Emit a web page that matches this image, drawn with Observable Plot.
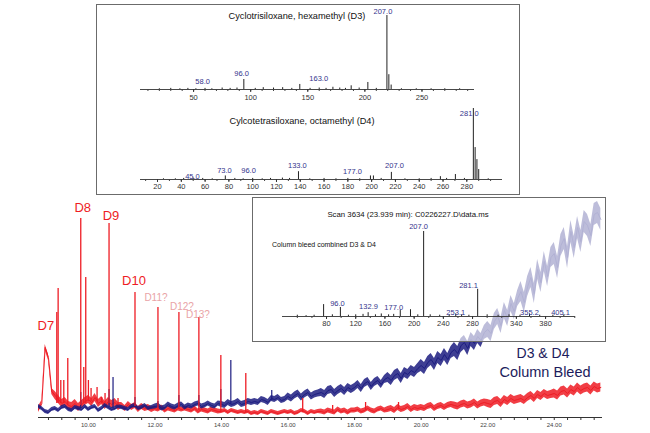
<!DOCTYPE html>
<html><head><meta charset="utf-8">
<script src="https://cdn.jsdelivr.net/npm/d3@7"></script>
<script src="https://cdn.jsdelivr.net/npm/@observablehq/plot@0.6"></script>
<style>
body{margin:0;background:#fff;}
#wrap{position:relative;width:650px;height:433px;overflow:hidden;font-family:"Liberation Sans",Arial,sans-serif;}
#wrap svg{position:absolute;left:0;top:0;}
.box{position:absolute;border:1.5px solid #6b6b6b;box-sizing:border-box;}
.t{position:absolute;white-space:nowrap;line-height:1;}
</style></head><body><div id="wrap"></div><script>
// ---------- chromatogram traces (abundance, arbitrary units) sampled every 0.1 min from 8.5 min ----------
const traceStart = 8.5, traceStep = 0.1;
const redAbund = [
  8, 14, 70, 60, 26,
  22, 18, 14, 16, 12, 11, 14, 10, 13, 16,
  18, 15, 20, 14, 17, 12, 16, 13, 15, 11,
  12, 9, 13, 10, 12, 8, 11, 9, 10, 8,
  9, 8, 10, 7, 9, 8, 7, 9, 8, 9,
  8, 7, 9, 6, 8, 7, 6, 8, 7, 6,
  6, 7, 5, 7, 6, 5, 6, 5, 6, 4,
  5, 4, 6, 5, 4, 6, 5, 4, 5, 6,
  5, 6, 4, 5, 7, 6, 4, 6, 5, 6,
  6, 5, 7, 6, 5, 8, 6, 7, 5, 7,
  7, 8, 6, 7, 9, 7, 6, 8, 9, 7,
  8, 9, 7, 10, 8, 9, 11, 8, 10, 9,
  10, 9, 11, 12, 9, 11, 12, 10, 12, 13,
  12, 11, 13, 14, 12, 13, 15, 12, 14, 15,
  14, 13, 16, 17, 14, 18, 16, 19, 17, 18,
  19, 17, 20, 22, 19, 23, 21, 24, 22, 23,
  24, 22, 26, 27, 24, 28, 26, 30, 27, 29,
  30, 27, 31, 29, 30
];
const blueAbund = [
  11, 9, 6, 5, 8,
  9, 7, 10, 11, 8, 7, 10, 9, 8, 11,
  8, 10, 11, 7, 9, 12, 10, 8, 9, 11,
  10, 9, 8, 11, 12, 9, 10, 12, 9, 10,
  11, 12, 9, 10, 13, 11, 10, 12, 13, 10,
  12, 11, 13, 14, 11, 12, 14, 12, 11, 14,
  13, 12, 15, 13, 14, 16, 13, 14, 16, 15,
  16, 15, 18, 17, 15, 19, 18, 20, 17, 18,
  21, 19, 22, 24, 20, 23, 25, 21, 23, 24,
  25, 23, 27, 28, 24, 27, 29, 26, 30, 28,
  30, 33, 29, 34, 36, 31, 35, 37, 33, 38,
  40, 37, 42, 44, 39, 45, 43, 47, 45, 49,
  52, 49, 55, 58, 53, 60, 57, 63, 58, 65,
  68, 64, 72, 75, 69, 78, 74, 81, 77, 85,
  88, 84, 96, 101, 92, 107, 99, 114, 106, 119,
  126, 115, 131, 140, 124, 148, 135, 156, 141, 160,
  164, 150, 172, 179, 160, 186, 170, 190, 176, 196,
  192, 182, 203, 205, 198
];
// half-width of the noise band, per whole minute from 8 to 25 min
const redNoise  = [3, 4, 4, 3, 2.5, 2.5, 2, 2, 2, 2.5, 2.5, 3, 3, 3.5, 4, 4, 4.5, 4.5];
const blueNoise = [2, 2, 2, 2, 2.5, 2.5, 3, 3, 3.5, 4, 4, 5, 6, 7, 8, 10, 11, 11];
// sharp peaks (retention time, apex, local baseline)
const redPeakTime = [9.05, 9.09, 9.17, 9.26, 9.38, 9.77, 9.86, 9.92, 10.0, 10.08, 10.26, 10.4, 10.5, 10.62, 10.89, 11.40, 12.09, 12.72, 13.32, 13.98, 14.73, 16.44, 17.34, 18.33, 19.32];
const redPeakTop  = [105, 129, 37, 37, 59, 199, 50, 140, 37, 29, 30, 20, 24, 194, 19, 125, 110, 105, 100, 62, 44, 19, 12, 15, 15];
const redPeakBase = [14, 14, 14, 14, 12, 12, 14, 14, 16, 16, 16, 14, 14, 14, 12, 11, 8, 8, 7, 6, 5, 5, 6, 7, 8];
const bluePeakTime = [9.77, 10.62, 10.74, 11.40, 12.09, 12.72, 13.32, 13.98, 14.28, 15.51];
const bluePeakTop  = [25, 28, 40, 20, 16, 22, 22, 28, 57, 27];
const bluePeakBase = [9, 10, 9, 10, 10, 11, 12, 13, 13, 17];
// peak annotations
const dLabel = ["D7", "D8", "D9", "D10", "D11?", "D12?", "D13?"];
const dTime  = [8.72, 9.83, 10.68, 11.37, 12.03, 12.81, 13.29];
const dAbund = [92, 210, 202, 137, 120, 111, 103];
const dSure  = [true, true, true, true, false, false, false];
const timeTickLabels = [10, 12, 14, 16, 18, 20, 22, 24];

// ---------- mass spectra (m/z, relative intensity %) ----------
const d3Mz  = [20, 30, 38, 45, 52, 60, 66, 75, 82, 88, 94, 104, 111, 120, 128, 136, 143, 152, 160, 166, 172, 178, 183, 188, 195, 202.6, 210, 219.3, 221, 223, 232, 245, 258, 270, 283];
const d3Int = [1, 1.5, 1, 1.5, 1, 1.5, 1, 2, 1.5, 2, 13.5, 1.5, 2.5, 2, 2.5, 1.5, 6.8, 1.5, 2, 1.5, 3, 2, 1.5, 5, 2, 9.5, 1.5, 100, 20, 6, 1, 1, 1, 1, 1];
const d3LabText = ["58.0", "96.0", "163.0", "207.0"];
const d3LabMz   = [57.9, 92, 159.6, 215.8];
const d3LabInt  = [10.8, 21.6, 14.9, 105.4];
const d3Ticks   = [50, 100, 150, 200, 250];

const d4Mz  = [25, 35, 42, 50, 58, 66, 77, 85, 92, 100, 108, 115, 125, 131, 138.5, 148, 160, 170, 180, 190, 199, 201.5, 208, 216.6, 228, 240, 250, 257.8, 263, 270.4, 278, 285.5, 287, 288.5, 290, 298];
const d4Int = [1, 1, 1.5, 2, 1.5, 1, 5, 1.5, 1, 1.5, 1, 1.5, 2, 1.5, 11, 1, 1.5, 1, 1.5, 1, 5, 5, 1.5, 10, 1, 1, 1.5, 4, 1.5, 7, 1.5, 100, 45, 28, 14, 1];
const d4LabText = ["45.0", "73.0", "96.0", "133.0", "177.0", "207.0", "281.0"];
const d4LabMz   = [49.4, 76.3, 96.5, 137.6, 183.9, 219.2, 282];
const d4LabInt  = [4.2, 12.7, 12.7, 19.7, 11.3, 19.7, 93];
const d4Ticks   = [20, 40, 60, 80, 100, 120, 140, 160, 180, 200, 220, 240, 260, 280];

const bleedMz  = [40, 52, 63, 76, 88, 99, 110, 120, 130, 137, 147, 155, 165, 172, 181, 195, 205, 213, 222, 235, 248, 257, 265, 275, 287, 300, 315, 330, 345, 358, 372, 390, 405];
const bleedInt = [1.5, 1, 1.5, 14, 2, 10.6, 1.5, 2, 2.5, 4.5, 2, 3, 2, 2.5, 7, 8, 2, 100, 2, 1.5, 2, 3, 2, 1.5, 32, 2, 1.5, 2, 1.5, 3, 1.5, 1.5, 2];
const bleedLabText = ["96.0", "132.9", "177.0", "207.0", "253.1", "281.1", "355.2", "405.1"];
const bleedLabMz   = [95, 137.5, 172, 206, 257, 274.5, 358, 400.5];
const bleedLabInt  = [15.3, 11.8, 10.6, 106, 4.7, 36.5, 4.7, 4.7];
const bleedTicks   = [80, 120, 160, 200, 240, 280, 340, 380];

// ---------- build ----------
const W = 650, H = 433;
const RED = "#ee1c24", BLUE = "#1c1c80", PINK = "#e9a3a6", LABEL = "#34348c";
const FONT = "Liberation Sans, Arial, sans-serif";
const wrap = document.getElementById("wrap");

const rowsOf = (vals, noise) => vals.map((v, i) => {
  const t = traceStart + i * traceStep;
  const s = noise[Math.min(noise.length - 1, Math.floor(t + 1e-9) - 8)];
  return {t, v, lo: v - s, hi: v + s};
});
const redRows = rowsOf(redAbund, redNoise);
const blueRows = rowsOf(blueAbund, blueNoise);
const redPeaks = redPeakTime.map((t, i) => ({t, top: redPeakTop[i], base: redPeakBase[i]}));
const bluePeaks = bluePeakTime.map((t, i) => ({t, top: bluePeakTop[i], base: bluePeakBase[i]}));
const dRows = dLabel.map((s, i) => ({s, t: dTime[i], v: dAbund[i], sure: dSure[i]}));

const main = Plot.plot({
  width: W, height: H,
  marginLeft: 38, marginRight: 48, marginTop: 17, marginBottom: 16,
  x: {domain: [8.5, 25.45], label: null},
  y: {domain: [0, 400], axis: null, label: null},
  style: {background: "transparent", fontFamily: FONT, overflow: "visible"},
  marks: [
    Plot.ruleY([0], {stroke: "#333", strokeWidth: 1}),
    Plot.axisX({ticks: d3.range(8.8, 25.45, 0.4), tickSize: 3, tickFormat: () => "", stroke: "#333", label: null}),
    Plot.axisX({ticks: timeTickLabels, tickSize: 0, tickPadding: 5, tickFormat: d => d.toFixed(2), fontSize: 6, fill: "#444", label: null}),
    Plot.areaY(redRows, {x: "t", y1: "lo", y2: "hi", fill: RED, fillOpacity: 0.85}),
    Plot.line(redRows, {x: "t", y: "v", stroke: RED, strokeWidth: 1}),
    Plot.areaY(blueRows, {x: "t", y1: "lo", y2: "hi", fill: BLUE, fillOpacity: 0.85}),
    Plot.line(blueRows, {x: "t", y: "v", stroke: BLUE, strokeWidth: 1}),
    Plot.ruleX(bluePeaks, {x: "t", y1: "base", y2: "top", stroke: BLUE, strokeWidth: 1.2}),
    Plot.ruleX(redPeaks, {x: "t", y1: "base", y2: "top", stroke: RED, strokeWidth: 1.3}),
    Plot.text(dRows.filter(d => d.sure), {x: "t", y: "v", text: "s", fill: RED, fontSize: 13}),
    Plot.text(dRows.filter(d => !d.sure), {x: "t", y: "v", text: "s", fill: PINK, fontSize: 10})
  ]
});
wrap.append(main);

function box(x0, y0, x1, y1, bg) {
  const b = document.createElement("div");
  b.className = "box";
  Object.assign(b.style, {left: x0 + "px", top: y0 + "px", width: (x1 - x0) + "px", height: (y1 - y0) + "px", background: bg});
  wrap.append(b);
}
box(96, 4, 520, 195, "#fff");
box(252, 197, 606, 342, "rgba(255,255,255,0.66)");

function spectrum(o) {
  const peaks = o.mz.map((m, i) => ({m, v: o.int[i]}));
  const labs = o.labText.map((s, i) => ({s, m: o.labMz[i], v: o.labInt[i]}));
  return Plot.plot({
    width: W, height: H,
    marginLeft: o.x0, marginRight: W - o.x1, marginTop: o.yAxis - o.px100, marginBottom: H - o.yAxis,
    x: {domain: o.domain, label: null},
    y: {domain: [0, 100], axis: null, label: null},
    style: {background: "transparent", fontFamily: FONT, overflow: "visible"},
    marks: [
      Plot.ruleY([0], {stroke: "#333", strokeWidth: 0.9}),
      Plot.axisX({ticks: o.minor, tickSize: 2, tickFormat: () => "", stroke: "#444", label: null}),
      Plot.axisX({ticks: o.major, tickSize: 3, tickPadding: o.pad, tickFormat: d => String(d), fontSize: 7.5, fill: "#333", stroke: "#333", label: null}),
      Plot.ruleX(peaks, {x: "m", y1: 0, y2: "v", stroke: "#222", strokeWidth: 1}),
      Plot.text(labs, {x: "m", y: "v", text: "s", fill: LABEL, fontSize: 7.5})
    ]
  });
}
wrap.append(spectrum({mz: d3Mz, int: d3Int, labText: d3LabText, labMz: d3LabMz, labInt: d3LabInt,
  x0: 140, x1: 474, domain: [3.5, 296], yAxis: 89, px100: 74, pad: 2.5,
  major: d3Ticks, minor: d3.range(10, 296, 10)}));
wrap.append(spectrum({mz: d4Mz, int: d4Int, labText: d4LabText, labMz: d4LabMz, labInt: d4LabInt,
  x0: 140, x1: 502, domain: [5.7, 310], yAxis: 179, px100: 71, pad: 1.5,
  major: d4Ticks, minor: d3.range(10, 310, 10)}));
wrap.append(spectrum({mz: bleedMz, int: bleedInt, labText: bleedLabText, labMz: bleedLabMz, labInt: bleedLabInt,
  x0: 282, x1: 575, domain: [19.7, 421], yAxis: 316, px100: 85, pad: 1.5,
  major: bleedTicks, minor: d3.range(40, 421, 20)}));

function txt(s, x, y, size, color, anchor) {
  const d = document.createElement("div");
  d.className = "t";
  d.textContent = s;
  const tx = anchor === "start" ? "0" : "-50%";
  Object.assign(d.style, {left: x + "px", top: y + "px", fontSize: size + "px", color, transform: `translate(${tx},-50%)`});
  wrap.append(d);
}
txt("Cyclotrisiloxane, hexamethyl (D3)", 297, 17, 9.2, "#111");
txt("Cylcotetrasiloxane, octamethyl (D4)", 302, 122, 9.2, "#111");
txt("Scan 3634 (23.939 min): C0226227.D\\data.ms", 408, 215, 7.8, "#111");
txt("Column bleed combined D3 & D4", 272, 244, 7, "#111", "start");
txt("D3 & D4", 543, 353, 14, "#1c1c5c");
txt("Column Bleed", 545, 372, 14.5, "#1c1c5c");
</script></body></html>
